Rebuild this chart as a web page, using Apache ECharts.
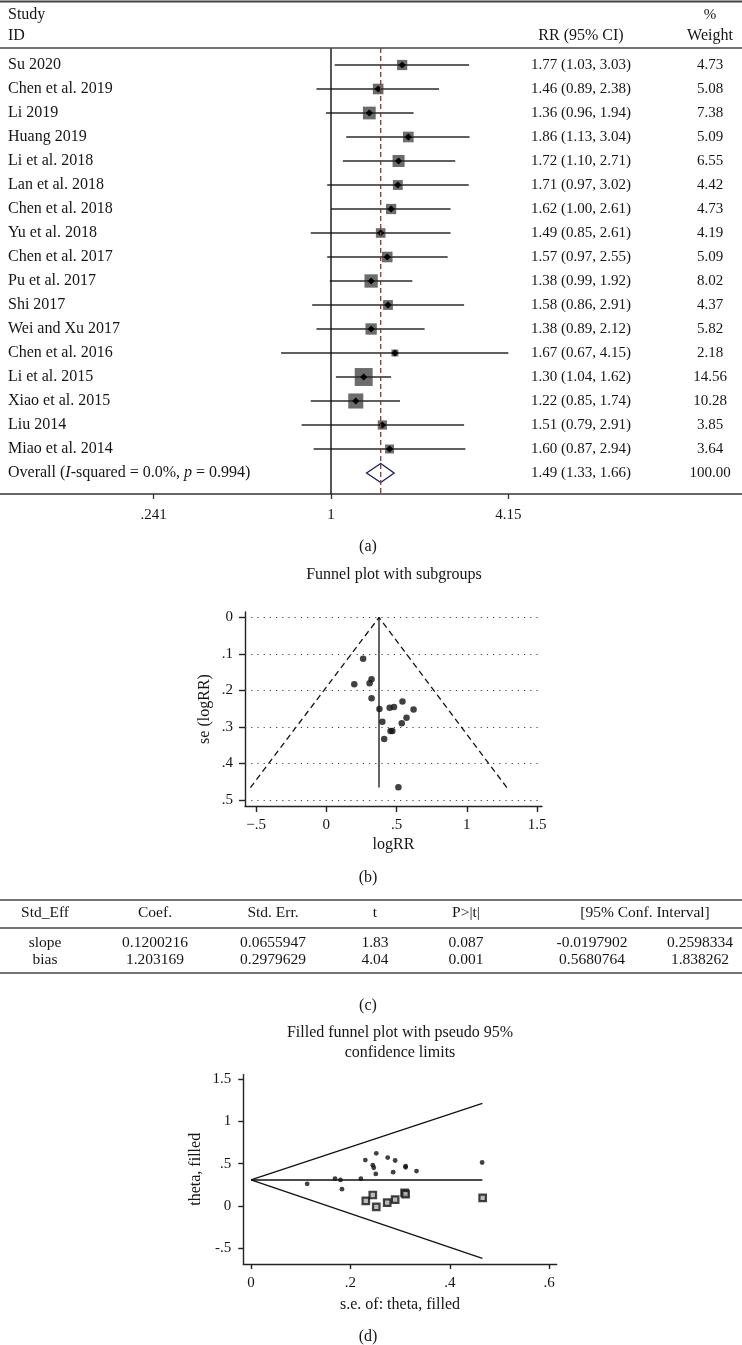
<!DOCTYPE html>
<html><head><meta charset="utf-8">
<script src="https://cdn.jsdelivr.net/npm/echarts@6/dist/echarts.min.js"></script>
<style>html,body{margin:0;padding:0;background:#fff}#c{width:742px;height:1345px}</style>
</head><body><div id="c"></div>
<script>
// ---------- (a) forest plot data ----------
const studies = ['Su 2020','Chen et al. 2019','Li 2019','Huang 2019','Li et al. 2018','Lan et al. 2018','Chen et al. 2018','Yu et al. 2018','Chen et al. 2017','Pu et al. 2017','Shi 2017','Wei and Xu 2017','Chen et al. 2016','Li et al. 2015','Xiao et al. 2015','Liu 2014','Miao et al. 2014'];
const rr     = [1.77,1.46,1.36,1.86,1.72,1.71,1.62,1.49,1.57,1.38,1.58,1.38,1.67,1.30,1.22,1.51,1.60];
const ciLow  = [1.03,0.89,0.96,1.13,1.10,0.97,1.00,0.85,0.97,0.99,0.86,0.89,0.67,1.04,0.85,0.79,0.87];
const ciHigh = [3.03,2.38,1.94,3.04,2.71,3.02,2.61,2.61,2.55,1.92,2.91,2.12,4.15,1.62,1.74,2.91,2.94];
const weights = [4.73,5.08,7.38,5.09,6.55,4.42,4.73,4.19,5.09,8.02,4.37,5.82,2.18,14.56,10.28,3.85,3.64];
const overallRR = 1.49, overallLow = 1.33, overallHigh = 1.66, overallWeight = 100.00;
const overallI2 = '0.0%', overallP = '0.994';
const nullEffect = 1;
const forestTicks = [0.241, 1, 4.15];
const forestTickLabels = ['.241', '1', '4.15'];

// ---------- (b) funnel plot data ----------
const logRR   = [0.571,0.378,0.308,0.621,0.542,0.537,0.482,0.399,0.451,0.322,0.457,0.322,0.513,0.262,0.199,0.412,0.470];
const seLogRR = [0.275,0.251,0.180,0.252,0.230,0.290,0.245,0.286,0.247,0.169,0.311,0.221,0.465,0.113,0.183,0.333,0.311];
const pooledLogRR = 0.375;
const funnelBaseSE = 0.466;
const funnelLeft = -0.54, funnelRight = 1.285;
const funnelXTicks = [-0.5, 0, 0.5, 1, 1.5];
const funnelXTickLabels = ['\u2212.5', '0', '.5', '1', '1.5'];
const funnelYTicks = [0, 0.1, 0.2, 0.3, 0.4, 0.5];
const funnelYTickLabels = ['0', '.1', '.2', '.3', '.4', '.5'];

// ---------- (c) Egger table ----------
const tableHeader = ['Std_Eff', 'Coef.', 'Std. Err.', 't', 'P>|t|', '[95% Conf. Interval]'];
const slopeRow = ['slope', '0.1200216', '0.0655947', '1.83', '0.087', '-0.0197902', '0.2598334'];
const biasRow  = ['bias', '1.203169', '0.2979629', '4.04', '0.001', '0.5680764', '1.838262'];

// ---------- (d) filled funnel data ----------
const filledTheta = 0.307;
const filledMaxSE = 0.4655;
const filledUpper = 1.211, filledLower = -0.617;
const imputedSE    = [0.231,0.245,0.252,0.274,0.290,0.309,0.311,0.466];
const imputedTheta = [0.060,0.130,-0.010,0.040,0.075,0.155,0.140,0.095];
const filledXTicks = [0, 0.2, 0.4, 0.6];
const filledXTickLabels = ['0', '.2', '.4', '.6'];
const filledYTicks = [-0.5, 0, 0.5, 1, 1.5];
const filledYTickLabels = ['-.5', '0', '.5', '1', '1.5'];

// ---------- helpers ----------
const FF = 'Liberation Serif';
const INK = '#151515';
function tickFmt(ticks, labels) {
  return function (v) {
    let best = 0;
    for (let k = 1; k < ticks.length; k++) if (Math.abs(ticks[k] - v) < Math.abs(ticks[best] - v)) best = k;
    return labels[best];
  };
}
const g = [];
function txt(x, y, s, size, align, extra) {
  g.push(Object.assign({ type: 'text', x: x, y: y, silent: true, z: 10,
    style: { text: s, fontSize: size, fontFamily: FF, fill: INK,
      textAlign: align || 'center', align: align || 'center',
      textVerticalAlign: 'middle', verticalAlign: 'middle' } }, extra || {}));
}
function hline(y, x1, x2, w, color) {
  g.push({ type: 'line', silent: true, z: 10, shape: { x1: x1, y1: y, x2: x2, y2: y },
    style: { stroke: color || '#333', lineWidth: w || 1.5 } });
}

// forest header
hline(1.5, 0, 742, 2, '#444');
hline(48, 0, 742, 1.6, '#444');
txt(8, 15, 'Study', 16, 'left');
txt(8, 36, 'ID', 16, 'left');
txt(581, 36, 'RR (95% CI)', 16);
txt(710, 15, '%', 15);
txt(710, 36, 'Weight', 16);
txt(368, 547, '(a)', 16);
txt(394, 575, 'Funnel plot with subgroups', 16);
txt(368, 878, '(b)', 16);
// table (c)
hline(900, 0, 742, 1.6, '#444');
hline(928, 0, 742, 1.6, '#444');
hline(973, 0, 742, 1.6, '#444');
const colX = [45, 155, 273, 375, 466, 645];
const valX = [45, 155, 273, 375, 466, 592, 700];
tableHeader.forEach((s, i) => txt(colX[i], 913, s, 15.5));
slopeRow.forEach((s, i) => txt(valX[i], 943, s, 15.5));
biasRow.forEach((s, i) => txt(valX[i], 960, s, 15.5));
txt(368, 1006, '(c)', 16);
txt(400, 1033, 'Filled funnel plot with pseudo 95%', 16);
txt(400, 1053, 'confidence limits', 16);
txt(368, 1337, '(d)', 16);

const rowNames = studies.concat(['Overall']);
const ciLabels = rr.map((v, i) => v.toFixed(2) + ' (' + ciLow[i].toFixed(2) + ', ' + ciHigh[i].toFixed(2) + ')')
  .concat([overallRR.toFixed(2) + ' (' + overallLow.toFixed(2) + ', ' + overallHigh.toFixed(2) + ')']);
const weightLabels = weights.map(v => v.toFixed(2)).concat([overallWeight.toFixed(2)]);

const labelBase = { color: INK, fontFamily: FF };
const axisLineStyle = { color: '#222', width: 1.4 };

function catAxis(data, extra) {
  return Object.assign({
    gridIndex: 0, type: 'category', data: data, inverse: true,
    axisLine: { show: false }, axisTick: { show: false }, splitLine: { show: false }
  }, extra);
}

const option = {
  animation: false,
  backgroundColor: '#fff',
  graphic: { elements: g },
  grid: [
    { left: 0, top: 53, width: 742, height: 432, containLabel: false, outerBoundsMode: 'none' },
    { left: 245, top: 612, width: 297, height: 194, containLabel: false, outerBoundsMode: 'none' },
    { left: 243.3, top: 1074.6, width: 313.4, height: 189.4, containLabel: false, outerBoundsMode: 'none' }
  ],
  xAxis: [
    { gridIndex: 0, type: 'log', logBase: 2, min: 0.0702, max: 27.07, position: 'bottom', offset: 9,
      axisLine: { show: true, onZero: false, lineStyle: { color: '#333', width: 1.6 } },
      axisTick: { show: true, customValues: forestTicks, length: 5, lineStyle: { color: '#333', width: 1.3 } },
      axisLabel: Object.assign({ show: true, customValues: forestTicks, fontSize: 15, margin: 14, formatter: tickFmt(forestTicks, forestTickLabels) }, labelBase),
      splitLine: { show: false }, minorTick: { show: false } },
    { gridIndex: 1, type: 'value', min: -0.5786, max: 1.535,
      name: 'logRR', nameLocation: 'middle', nameGap: 31, nameMoveOverlap: false,
      nameTextStyle: { fontSize: 16, fontFamily: FF, color: INK },
      axisLine: { show: true, onZero: false, lineStyle: axisLineStyle },
      axisTick: { show: true, customValues: funnelXTicks, length: 6, lineStyle: axisLineStyle },
      axisLabel: Object.assign({ customValues: funnelXTicks, fontSize: 15, margin: 12, formatter: tickFmt(funnelXTicks, funnelXTickLabels) }, labelBase),
      splitLine: { show: false } },
    { gridIndex: 2, type: 'value', min: -0.0155, max: 0.615,
      name: 's.e. of: theta, filled', nameLocation: 'middle', nameGap: 33, nameMoveOverlap: false,
      nameTextStyle: { fontSize: 16, fontFamily: FF, color: INK },
      axisLine: { show: true, onZero: false, lineStyle: axisLineStyle },
      axisTick: { show: true, customValues: filledXTicks, length: 5, lineStyle: axisLineStyle },
      axisLabel: Object.assign({ customValues: filledXTicks, fontSize: 15, margin: 12, formatter: tickFmt(filledXTicks, filledXTickLabels) }, labelBase),
      splitLine: { show: false } }
  ],
  yAxis: [
    catAxis(rowNames, { position: 'left',
      axisLabel: { interval: 0, inside: true, margin: 8, align: 'left', fontSize: 16, fontFamily: FF, color: INK,
        formatter: function (v, idx) {
          if (idx === studies.length) return 'Overall ({i|I}-squared = ' + overallI2 + ', {i|p} = ' + overallP + ')';
          return v;
        },
        rich: { i: { fontStyle: 'italic', fontSize: 16, fontFamily: FF, color: INK } } } }),
    catAxis(ciLabels, { position: 'right', offset: -161,
      axisLabel: { interval: 0, margin: 0, align: 'center', fontSize: 15, fontFamily: FF, color: INK } }),
    catAxis(weightLabels, { position: 'right', offset: -32,
      axisLabel: { interval: 0, margin: 0, align: 'center', fontSize: 15, fontFamily: FF, color: INK } }),
    { gridIndex: 1, type: 'value', inverse: true, min: -0.015, max: 0.5165,
      name: 'se (logRR)', nameLocation: 'middle', nameGap: 32, nameMoveOverlap: false,
      nameTextStyle: { fontSize: 16, fontFamily: FF, color: INK },
      axisLine: { show: true, onZero: false, lineStyle: axisLineStyle },
      axisTick: { show: true, customValues: funnelYTicks, length: 6, lineStyle: axisLineStyle },
      axisLabel: Object.assign({ customValues: funnelYTicks, fontSize: 15, margin: 12, formatter: tickFmt(funnelYTicks, funnelYTickLabels) }, labelBase),
      splitLine: { show: false } },
    { gridIndex: 2, type: 'value', min: -0.684, max: 1.55,
      name: 'theta, filled', nameLocation: 'middle', nameGap: 40, nameMoveOverlap: false,
      nameTextStyle: { fontSize: 16, fontFamily: FF, color: INK },
      axisLine: { show: true, onZero: false, lineStyle: axisLineStyle },
      axisTick: { show: true, customValues: filledYTicks, length: 5, lineStyle: axisLineStyle },
      axisLabel: Object.assign({ customValues: filledYTicks, fontSize: 15, margin: 12, formatter: tickFmt(filledYTicks, filledYTickLabels) }, labelBase),
      splitLine: { show: false } }
  ],
  series: [
    // (a) individual studies
    { type: 'custom', xAxisIndex: 0, yAxisIndex: 0, z: 3,
      encode: { x: [0, 1, 2], y: 4 },
      data: rr.map((v, i) => [v, ciLow[i], ciHigh[i], weights[i], i]),
      renderItem: function (params, api) {
        const row = api.value(4);
        const c = api.coord([api.value(0), row]);
        const l = api.coord([api.value(1), row]);
        const h = api.coord([api.value(2), row]);
        const side = 4.7 * Math.sqrt(api.value(3));
        const d = 3.6;
        return { type: 'group', children: [
          { type: 'rect', shape: { x: c[0] - side / 2, y: c[1] - side / 2, width: side, height: side }, style: { fill: '#6c6c6c' } },
          { type: 'line', shape: { x1: l[0], y1: l[1], x2: h[0], y2: h[1] }, style: { stroke: '#2a2a2a', lineWidth: 1.3 } },
          { type: 'polygon', shape: { points: [[c[0] - d, c[1]], [c[0], c[1] - d], [c[0] + d, c[1]], [c[0], c[1] + d]] }, style: { fill: '#000' } }
        ] };
      } },
    // (a) overall diamond
    { type: 'custom', xAxisIndex: 0, yAxisIndex: 0, z: 3,
      encode: { x: [0, 1, 2], y: 3 },
      data: [[overallRR, overallLow, overallHigh, studies.length]],
      renderItem: function (params, api) {
        const row = api.value(3);
        const c = api.coord([api.value(0), row]);
        const l = api.coord([api.value(1), row]);
        const h = api.coord([api.value(2), row]);
        const hh = 9.5;
        return { type: 'polygon', shape: { points: [[l[0], c[1]], [c[0], c[1] - hh], [h[0], c[1]], [c[0], c[1] + hh]] },
          style: { fill: '#fff', stroke: '#1c1c5c', lineWidth: 1.3 } };
      } },
    // (a) null line and overall dashed line
    { type: 'custom', xAxisIndex: 0, yAxisIndex: 0, z: 4,
      encode: { x: 0, y: 1 },
      data: [[nullEffect, 0], [overallRR, 0]],
      renderItem: function (params, api) {
        const x = api.coord([api.value(0), 0])[0];
        const cs = params.coordSys;
        const dashed = params.dataIndex === 1;
        return { type: 'line', shape: { x1: x, y1: cs.y - 5, x2: x, y2: cs.y + cs.height + 9 },
          style: dashed ? { stroke: '#8a3a3a', lineWidth: 1.3, lineDash: [5, 3] } : { stroke: '#111', lineWidth: 1.4 } };
      } },
    // (b) dotted reference lines
    { type: 'line', xAxisIndex: 1, yAxisIndex: 3, data: [], silent: true,
      markLine: { silent: true, symbol: 'none', label: { show: false },
        lineStyle: { type: [1.2, 5], color: '#444', width: 1.2 },
        data: funnelYTicks.map(v => ({ yAxis: v })) } },
    // (b) pseudo-CI funnel
    { type: 'line', xAxisIndex: 1, yAxisIndex: 3, symbol: 'none', silent: true,
      lineStyle: { color: '#111', width: 1.3, type: [6, 4] },
      data: [[funnelLeft, funnelBaseSE], [pooledLogRR, 0], [funnelRight, funnelBaseSE]] },
    // (b) pooled estimate line
    { type: 'line', xAxisIndex: 1, yAxisIndex: 3, symbol: 'none', silent: true,
      lineStyle: { color: '#111', width: 1.3 },
      data: [[pooledLogRR, 0], [pooledLogRR, funnelBaseSE]] },
    // (b) studies
    { type: 'scatter', xAxisIndex: 1, yAxisIndex: 3, symbolSize: 6.5, z: 5,
      itemStyle: { color: '#111' },
      data: logRR.map((v, i) => [v, seLogRR[i]]) },
    // (d) limits
    { type: 'line', xAxisIndex: 2, yAxisIndex: 4, symbol: 'none', silent: true,
      lineStyle: { color: '#111', width: 1.3 },
      data: [[0, filledTheta], [filledMaxSE, filledUpper]] },
    { type: 'line', xAxisIndex: 2, yAxisIndex: 4, symbol: 'none', silent: true,
      lineStyle: { color: '#111', width: 1.3 },
      data: [[0, filledTheta], [filledMaxSE, filledLower]] },
    { type: 'line', xAxisIndex: 2, yAxisIndex: 4, symbol: 'none', silent: true,
      lineStyle: { color: '#111', width: 1.3 },
      data: [[0, filledTheta], [filledMaxSE, filledTheta]] },
    // (d) observed studies
    { type: 'scatter', xAxisIndex: 2, yAxisIndex: 4, symbolSize: 4.8, z: 5,
      itemStyle: { color: '#111' },
      data: seLogRR.map((s, i) => [s, logRR[i]]) },
    // (d) imputed studies
    { type: 'scatter', xAxisIndex: 2, yAxisIndex: 4, symbol: 'rect', symbolSize: 6.5, z: 5,
      itemStyle: { color: '#aaa', borderColor: '#151515', borderWidth: 2.2 },
      data: imputedSE.map((s, i) => [s, imputedTheta[i]]) }
  ]
};
const chart = echarts.init(document.getElementById('c'), null, { renderer: 'canvas', width: 742, height: 1345 });
chart.setOption(option);
</script>
</body></html>
